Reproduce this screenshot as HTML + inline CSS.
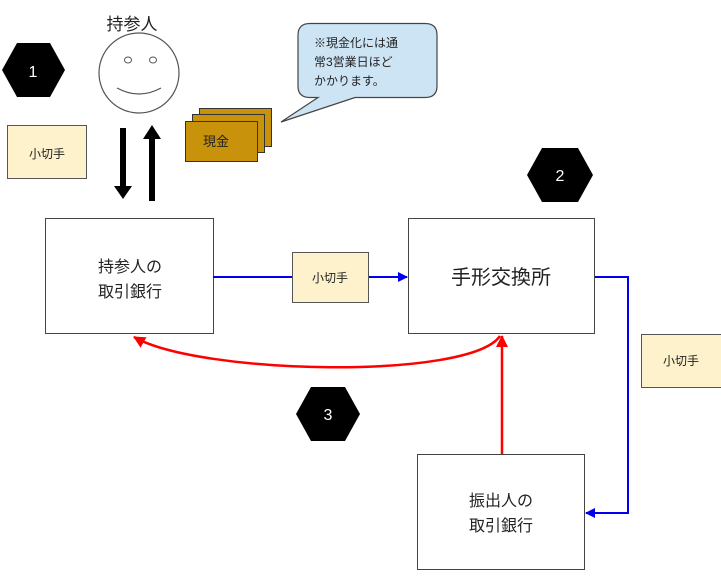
<!DOCTYPE html>
<html><head><meta charset="utf-8"><style>
body{margin:0;background:#fff;}
svg text{font-family:"Liberation Sans","Noto Sans CJK JP",sans-serif;}
</style></head><body>
<svg width="721" height="571" viewBox="0 0 721 571" xmlns="http://www.w3.org/2000/svg">
<defs>
<marker id="bl" markerWidth="10" markerHeight="10" refX="9" refY="5" orient="auto" markerUnits="userSpaceOnUse"><path d="M0,0 L10,5 L0,10 Z" fill="#0000ee"/></marker>
<marker id="rd" markerWidth="12" markerHeight="12" refX="11" refY="6" orient="auto" markerUnits="userSpaceOnUse"><path d="M0,0 L12,6 L0,12 Z" fill="#ff0000"/></marker>
</defs>
<!-- hexagons -->
<polygon points="2,70 17,43 50,43 65,70 50,97 17,97" fill="#000"/>
<text x="33" y="77" fill="#fff" font-size="16" text-anchor="middle">1</text>
<polygon points="527,175 542,148 578,148 593,175 578,202 542,202" fill="#000"/>
<text x="560" y="181" fill="#fff" font-size="16" text-anchor="middle">2</text>
<polygon points="296,414 311,387 345,387 360,414 345,441 311,441" fill="#000"/>
<text x="328" y="420" fill="#fff" font-size="16" text-anchor="middle">3</text>
<!-- person -->
<text x="132" y="30" font-size="17" text-anchor="middle" fill="#222">持参人</text>
<circle cx="139" cy="73" r="40" fill="#fff" stroke="#555" stroke-width="1.2"/>
<ellipse cx="128" cy="60" rx="3.5" ry="3" fill="none" stroke="#555"/>
<ellipse cx="153" cy="60" rx="3.5" ry="3" fill="none" stroke="#555"/>
<path d="M117,88 Q139,100 161,88" fill="none" stroke="#555" stroke-width="1.2"/>
<!-- black arrows -->
<rect x="120" y="128" width="6" height="60" fill="#000"/>
<polygon points="114,186 132,186 123,199" fill="#000"/>
<rect x="149" y="137" width="6" height="64" fill="#000"/>
<polygon points="143,139 161,139 152,125" fill="#000"/>
<!-- 小切手 top-left -->
<rect x="7.5" y="125.5" width="79" height="53" fill="#fdf2cc" stroke="#555"/>
<text x="47" y="158" font-size="12" text-anchor="middle" fill="#222">小切手</text>
<!-- money -->
<rect x="199.5" y="108.5" width="72" height="38" fill="#c8930a" stroke="#333"/>
<rect x="192.5" y="114.5" width="72" height="38" fill="#c8930a" stroke="#333"/>
<rect x="185.5" y="121.5" width="72" height="40" fill="#c8930a" stroke="#333"/>
<text x="216" y="146" font-size="13" text-anchor="middle" fill="#222">現金</text>
<!-- callout -->
<path d="M310,23.5 H425 Q437,23.5 437,35 V86 Q437,97.5 425,97.5 H355 L281,122 L318,97.5 H310 Q298,97.5 298,86 V35 Q298,23.5 310,23.5 Z" fill="#cde4f4" stroke="#444" stroke-width="1.2"/>
<text font-size="12" fill="#222"><tspan x="314" y="47">※現金化には通</tspan><tspan x="314" y="66">常3営業日ほど</tspan><tspan x="314" y="85">かかります。</tspan></text>
<!-- boxes -->
<rect x="45.5" y="218.5" width="168" height="115" fill="#fff" stroke="#444"/>
<text font-size="16" text-anchor="middle" fill="#222"><tspan x="130" y="272">持参人の</tspan><tspan x="130" y="297">取引銀行</tspan></text>
<rect x="408.5" y="218.5" width="186" height="115" fill="#fff" stroke="#444"/>
<text x="501" y="284" font-size="20" text-anchor="middle" fill="#222">手形交換所</text>
<rect x="417.5" y="454.5" width="167" height="115" fill="#fff" stroke="#444"/>
<text font-size="16" text-anchor="middle" fill="#222"><tspan x="501" y="506">振出人の</tspan><tspan x="501" y="531">取引銀行</tspan></text>
<!-- blue connectors -->
<line x1="213" y1="277" x2="407" y2="277" stroke="#0000ee" stroke-width="2" marker-end="url(#bl)"/>
<rect x="292.5" y="252.5" width="76" height="50" fill="#fdf2cc" stroke="#555"/>
<text x="330" y="282" font-size="12" text-anchor="middle" fill="#222">小切手</text>
<polyline points="595,277 628,277 628,513 586,513" fill="none" stroke="#0000ee" stroke-width="2" marker-end="url(#bl)"/>
<rect x="641.5" y="334.5" width="80" height="53" fill="#fdf2cc" stroke="#555"/>
<text x="681" y="365" font-size="12" text-anchor="middle" fill="#222">小切手</text>
<!-- red connectors -->
<line x1="502" y1="454" x2="502" y2="336" stroke="#ff0000" stroke-width="2.5" marker-end="url(#rd)"/>
<path d="M500,336 C470,380 200,375 134,337" fill="none" stroke="#ff0000" stroke-width="2.5" marker-end="url(#rd)"/>
</svg>
</body></html>
